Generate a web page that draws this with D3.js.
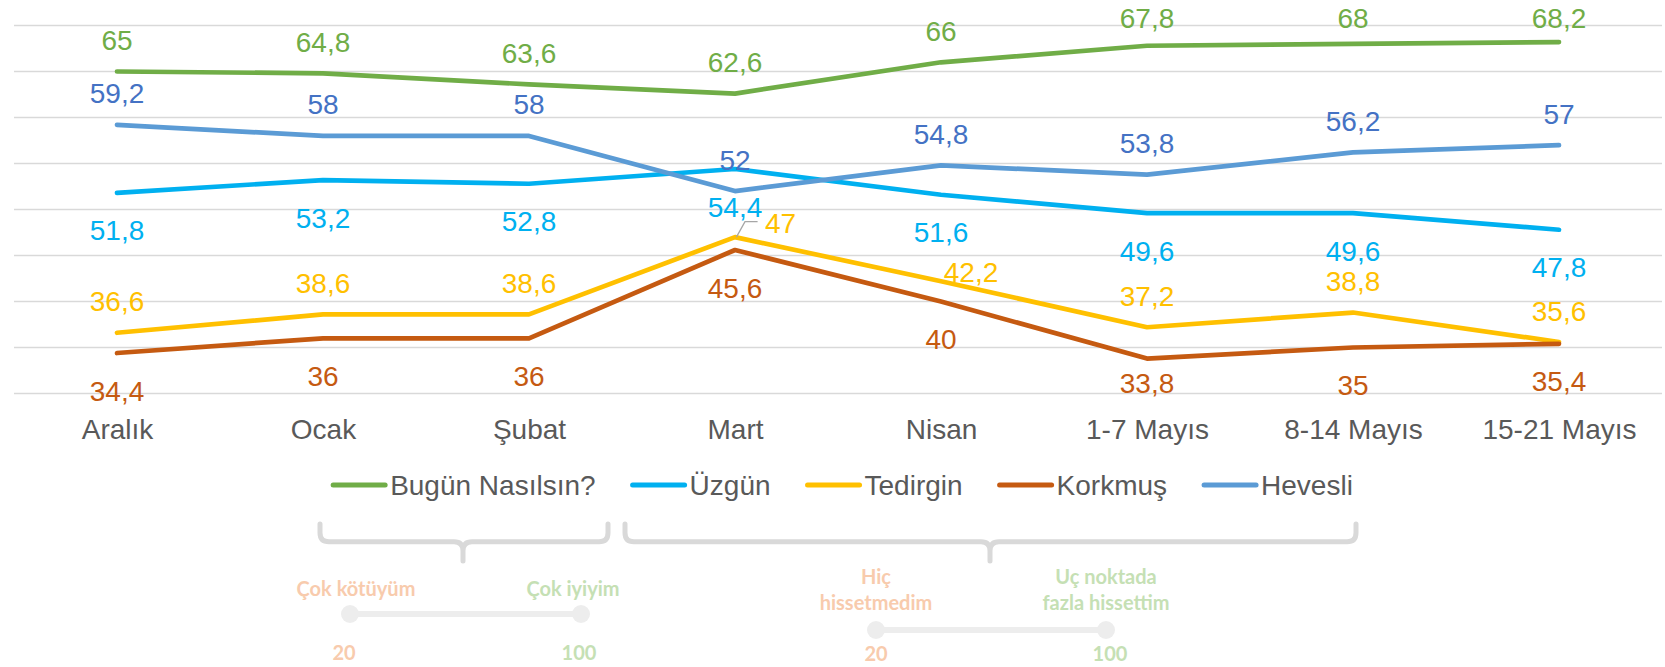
<!DOCTYPE html>
<html>
<head>
<meta charset="utf-8">
<script src="https://cdn.jsdelivr.net/npm/d3@7"></script>
<style>
  html, body { margin: 0; padding: 0; background: #ffffff; }
  svg { display: block; }
</style>
</head>
<body>
<script>
// ---------- DATA ----------
const categories = ["Aralık", "Ocak", "Şubat", "Mart", "Nisan", "1-7 Mayıs", "8-14 Mayıs", "15-21 Mayıs"];
const seriesNames = ["Bugün Nasılsın?", "Üzgün", "Tedirgin", "Korkmuş", "Hevesli"];
const bugun    = [65, 64.8, 63.6, 62.6, 66, 67.8, 68, 68.2];
const uzgun    = [51.8, 53.2, 52.8, 54.4, 51.6, 49.6, 49.6, 47.8];
const tedirgin = [36.6, 38.6, 38.6, 47, 42.2, 37.2, 38.8, 35.6];
const korkmus  = [34.4, 36, 36, 45.6, 40, 33.8, 35, 35.4];
const hevesli  = [59.2, 58, 58, 52, 54.8, 53.8, 56.2, 57];
const yDomain  = [30, 70];

// annotation texts
const scale1Labels = ["Çok kötüyüm", "Çok iyiyim"];
const scale2Labels = [["Hiç", "hissetmedim"], ["Uç noktada", "fazla hissettim"]];
const scaleEnds = [20, 100];

// ---------- STYLE ----------
const W = 1665, H = 667;
const FONT = "'Liberation Sans', Arial, Helvetica, sans-serif";
const FS = 28;
const styles = {
  "Bugün Nasılsın?": { line: "#70AD47", label: "#70AD47", pos: "above" },
  "Üzgün":           { line: "#00B0F0", label: "#00B0F0", pos: "below" },
  "Tedirgin":        { line: "#FFC000", label: "#FFC000", pos: "above" },
  "Korkmuş":         { line: "#C55A11", label: "#C55A11", pos: "below" },
  "Hevesli":         { line: "#5B9BD5", label: "#4472C4", pos: "above" }
};
const seriesValues = [bugun, uzgun, tedirgin, korkmus, hevesli];
const series = seriesNames.map((n, i) => ({ name: n, values: seriesValues[i], ...styles[n] }));

// label nudges (layout only)
const labelNudge = {
  "Tedirgin|Mart":      { dx: 30, off: -14, anchor: "start", leader: true },
  "Tedirgin|Nisan":     { dx: 30, off: -9.6 },
  "Korkmuş|1-7 Mayıs":  { off: 24.5 }
};

const svg = d3.select("body").append("svg").attr("width", W).attr("height", H);

const x = d3.scalePoint().domain(categories).range([14, 1662]).padding(0.5);
const y = d3.scaleLinear().domain(yDomain).range([393.5, 25.5]);

// gridlines
svg.append("g").selectAll("line").data(y.ticks(8)).join("line")
  .attr("x1", 14).attr("x2", 1662)
  .attr("y1", d => y(d)).attr("y2", d => y(d))
  .attr("stroke", "#D9D9D9").attr("stroke-width", 1.5);

// x axis
const xAxis = svg.append("g").attr("transform", `translate(0,${y(yDomain[0])})`)
  .call(d3.axisBottom(x).tickSize(0).tickPadding(26));
xAxis.select(".domain").remove();
xAxis.selectAll("text").attr("font-family", FONT).attr("font-size", FS).attr("fill", "#595959");

// lines
const line = d3.line().x((d, i) => x(categories[i])).y(d => y(d));
svg.append("g").selectAll("path").data(series).join("path")
  .attr("d", s => line(s.values))
  .attr("fill", "none")
  .attr("stroke", s => s.line)
  .attr("stroke-width", 4.7)
  .attr("stroke-linecap", "round")
  .attr("stroke-linejoin", "round");

// data labels
const fmt = v => String(v).replace(".", ",");
const gl = svg.append("g");
series.forEach(s => {
  s.values.forEach((v, i) => {
    const cat = categories[i];
    const px = x(cat), py = y(v);
    const nd = labelNudge[s.name + "|" + cat] || {};
    let center;
    if (nd.off !== undefined) center = py + nd.off;
    else if (s.pos === "above") center = Math.max(py - 31.5, 18.3);
    else center = py + 37.5;
    const tx = px + (nd.dx || 0);
    gl.append("text")
      .attr("x", tx).attr("y", center + 0.358 * FS)
      .attr("text-anchor", nd.anchor || "middle")
      .attr("font-family", FONT).attr("font-size", FS)
      .attr("fill", s.label)
      .text(fmt(v));
    if (nd.leader) {
      gl.append("path")
        .attr("d", `M${px + 1.4},${py}L${px + 10},${py - 15.4}H${px + 22.6}`)
        .attr("fill", "none").attr("stroke", "#A6A6A6").attr("stroke-width", 1.3);
    }
  });
});

// legend
const lg = svg.append("g");
let lx = 0;
const legendY = 485;
series.forEach(s => {
  const g = lg.append("g").attr("transform", `translate(${lx},0)`);
  g.append("line").attr("x1", 2).attr("x2", 54).attr("y1", legendY).attr("y2", legendY)
    .attr("stroke", s.line).attr("stroke-width", 5).attr("stroke-linecap", "round");
  const t = g.append("text").attr("x", 59).attr("y", legendY + 0.358 * FS)
    .attr("font-family", FONT).attr("font-size", FS).attr("fill", "#595959").text(s.name);
  const w = t.node().getComputedTextLength();
  lx += 59 + w + 35;
});
const legendW = lx - 35;
lg.attr("transform", `translate(${842 - legendW / 2},0)`);

// brackets
function bracket(x1, x2, xm, yTop, yH, yBot, r) {
  return `M${x1},${yTop}V${yH - r}Q${x1},${yH} ${x1 + r},${yH}H${xm - r}Q${xm},${yH} ${xm},${yH + r}V${yBot}` +
         `M${xm},${yH + r}Q${xm},${yH} ${xm + r},${yH}H${x2 - r}Q${x2},${yH} ${x2},${yH - r}V${yTop}`;
}
const bg = svg.append("g").attr("fill", "none").attr("stroke", "#D9D9D9")
  .attr("stroke-width", 5).attr("stroke-linecap", "round");
bg.append("path").attr("d", bracket(320, 608, 463, 524, 541.7, 561, 9));
bg.append("path").attr("d", bracket(625, 1356, 990, 524, 541.7, 561, 9));

// sliders
const AFONT = "Lato, 'Open Sans', sans-serif";
const AFS = 20;
const salmon = "#F8CBAD", lgreen = "#C5E0B4";
const endColors = [salmon, lgreen];
function slider(x0, x1, yl) {
  const sx = d3.scaleLinear().domain(scaleEnds).range([x0, x1]);
  const g = svg.append("g");
  g.append("line").attr("x1", sx(scaleEnds[0])).attr("x2", sx(scaleEnds[1]))
    .attr("y1", yl).attr("y2", yl).attr("stroke", "#EDEDED").attr("stroke-width", 6);
  g.selectAll("circle").data(scaleEnds).join("circle")
    .attr("cx", d => sx(d)).attr("cy", yl).attr("r", 9).attr("fill", "#EDEDED");
  return { g, sx };
}
const s1 = slider(350, 581, 614);
s1.g.selectAll("text.end").data(scaleEnds).join("text").attr("class", "end")
  .attr("x", (d, i) => s1.sx(d) + (i === 0 ? -6 : -2)).attr("y", 660)
  .attr("text-anchor", "middle").attr("font-family", AFONT).attr("font-weight", 700)
  .attr("font-size", AFS).attr("fill", (d, i) => endColors[i]).text(d => d);
s1.g.selectAll("text.lab").data(scale1Labels).join("text").attr("class", "lab")
  .attr("x", (d, i) => s1.sx(scaleEnds[i]) + (i === 0 ? 6 : -8)).attr("y", 589 + 7)
  .attr("text-anchor", "middle").attr("font-family", AFONT).attr("font-weight", 700)
  .attr("font-size", AFS).attr("fill", (d, i) => endColors[i]).text(d => d);

const s2 = slider(876, 1106, 630);
s2.g.selectAll("text.end").data(scaleEnds).join("text").attr("class", "end")
  .attr("x", (d, i) => s2.sx(d) + (i === 0 ? 0 : 4)).attr("y", 661)
  .attr("text-anchor", "middle").attr("font-family", AFONT).attr("font-weight", 700)
  .attr("font-size", AFS).attr("fill", (d, i) => endColors[i]).text(d => d);
scale2Labels.forEach((lines, i) => {
  lines.forEach((t, j) => {
    s2.g.append("text")
      .attr("x", s2.sx(scaleEnds[i])).attr("y", 577 + j * 26 + 7)
      .attr("text-anchor", "middle").attr("font-family", AFONT).attr("font-weight", 700)
      .attr("font-size", AFS).attr("fill", endColors[i]).text(t);
  });
});
</script>
</body>
</html>
